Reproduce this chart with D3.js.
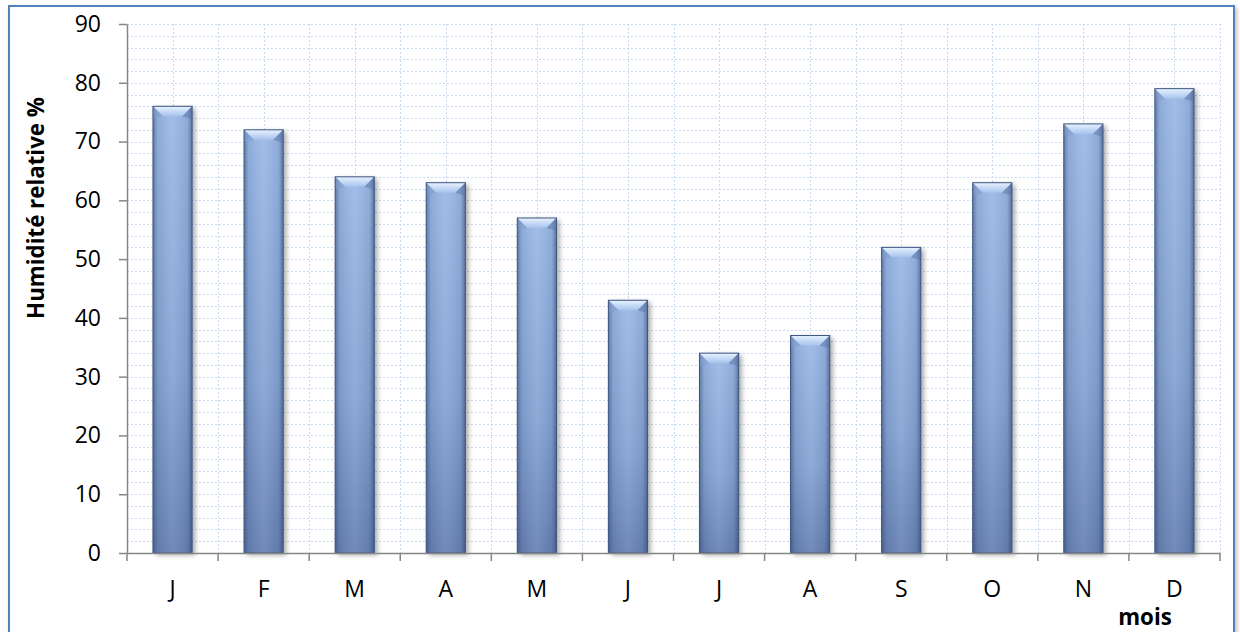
<!DOCTYPE html>
<html><head><meta charset="utf-8">
<script src="https://cdn.jsdelivr.net/npm/d3@7"></script>
<style>body{margin:0;background:#fff}svg{display:block}</style>
</head><body>
<script>
const months = ["J","F","M","A","M","J","J","A","S","O","N","D"];
const humidity = [76,72,64,63,57,43,34,37,52,63,73,79];
const yTicks = [0,10,20,30,40,50,60,70,80,90];
const yTitle = "Humidité relative %";
const xTitle = "mois";

const W=1240,H=632;
const svg=d3.select("body").append("svg").attr("width",W).attr("height",H);
const defs=svg.append("defs");
const m={l:127,r:1220,t:24,b:553};
const ids=months.map((d,i)=>i);
const x=d3.scaleBand().domain(ids).range([m.l,m.r]).paddingInner(0.57).paddingOuter(0.285);
const xb=d3.scaleBand().domain(ids).range([m.l,m.r]);
const y=d3.scaleLinear().domain([0,90]).range([m.b,m.t]);

// frame
const fs=defs.append("filter").attr("id","fsh").attr("x","-5%").attr("y","-5%").attr("width","110%").attr("height","110%");
fs.append("feDropShadow").attr("dx",2).attr("dy",2).attr("stdDeviation",2).attr("flood-color","#000").attr("flood-opacity",0.25);
svg.append("rect").attr("x",9).attr("y",6).attr("width",1225).attr("height",640).attr("fill","#fff").attr("stroke","#4f81bd").attr("stroke-width",2).attr("filter","url(#fsh)");

// gridlines
const grid=svg.append("g").attr("stroke","#c6d9f1").attr("stroke-width",1).attr("stroke-dasharray","2,2");
d3.range(2,91,2).forEach(v=>{
  grid.append("line").attr("x1",m.l).attr("x2",m.r).attr("y1",Math.round(y(v))+0.5).attr("y2",Math.round(y(v))+0.5);
});
ids.forEach(i=>{
  const xs=[xb(i)+xb.bandwidth()/2, xb(i)+xb.bandwidth()];
  xs.forEach(xx=>grid.append("line").attr("x1",Math.round(xx)+0.5).attr("x2",Math.round(xx)+0.5).attr("y1",m.t).attr("y2",m.b));
});

// gradients
const gv=defs.append("linearGradient").attr("id","gv").attr("x1",0).attr("y1",0).attr("x2",0).attr("y2",1);
gv.append("stop").attr("offset","0%").attr("stop-color","#9ab8e6");
gv.append("stop").attr("offset","60%").attr("stop-color","#84a2d2");
gv.append("stop").attr("offset","100%").attr("stop-color","#6580b2");
const gh=defs.append("linearGradient").attr("id","gh").attr("x1",0).attr("y1",0).attr("x2",1).attr("y2",0);
gh.append("stop").attr("offset","0%").attr("stop-color","#2c3f66").attr("stop-opacity",0.5);
gh.append("stop").attr("offset","12%").attr("stop-color","#2c3f66").attr("stop-opacity",0.1);
gh.append("stop").attr("offset","50%").attr("stop-color","#fff").attr("stop-opacity",0.08);
gh.append("stop").attr("offset","88%").attr("stop-color","#2c3f66").attr("stop-opacity",0.1);
gh.append("stop").attr("offset","100%").attr("stop-color","#2c3f66").attr("stop-opacity",0.55);
const gt=defs.append("linearGradient").attr("id","gt").attr("x1",0).attr("y1",0).attr("x2",0).attr("y2",1);
gt.append("stop").attr("offset","0%").attr("stop-color","#e8f3ff");
gt.append("stop").attr("offset","100%").attr("stop-color","#a6c2ec");
const bs=defs.append("filter").attr("id","bsh").attr("x","-30%").attr("y","-10%").attr("width","160%").attr("height","120%");
bs.append("feDropShadow").attr("dx",3).attr("dy",2).attr("stdDeviation",2.5).attr("flood-color","#000").attr("flood-opacity",0.35);

// bars
const bars=svg.append("g");
humidity.forEach((v,i)=>{
  const bx=x(i), bw=x.bandwidth(), by=y(v), bh=y(0)-y(v);
  const g=bars.append("g");
  g.append("rect").attr("x",bx).attr("y",by).attr("width",bw).attr("height",bh).attr("fill","url(#gv)").attr("filter","url(#bsh)");
  g.append("rect").attr("x",bx).attr("y",by).attr("width",bw).attr("height",bh).attr("fill","url(#gh)");
  const b=10;
  g.append("path").attr("d",`M${bx},${by}L${bx+bw},${by}L${bx+bw-b},${by+b}L${bx+b},${by+b}Z`).attr("fill","url(#gt)");
  g.append("path").attr("d",`M${bx},${by}L${bx+b},${by+b}L${bx},${by+b*1.3}Z`).attr("fill","#7f9bcb").attr("opacity",0.5);
  g.append("path").attr("d",`M${bx+bw},${by}L${bx+bw-b},${by+b}L${bx+bw},${by+b*1.3}Z`).attr("fill","#5a76a6").attr("opacity",0.5);
  g.append("rect").attr("x",bx).attr("y",by).attr("width",bw).attr("height",bh).attr("fill","none").attr("stroke","#3c5580").attr("stroke-width",1);
});

// axes
const ya=svg.append("g").attr("transform",`translate(${m.l},0)`)
  .call(d3.axisLeft(y).tickValues(yTicks).tickSize(8).tickPadding(18).tickSizeOuter(0));
const xa=svg.append("g").attr("transform",`translate(0,${m.b})`)
  .call(d3.axisBottom(xb).tickSize(0).tickPadding(28).tickFormat(i=>months[i]));
[ya,xa].forEach(a=>{
  a.select(".domain").attr("stroke","#868686").attr("stroke-width",1.5);
  a.selectAll(".tick line").attr("stroke","#868686").attr("stroke-width",1.5);
  a.selectAll("text").attr("font-family","'Open Sans',sans-serif").attr("font-size",23).attr("fill","#000");
});
// x boundary ticks
const bnd=ids.map(i=>xb(i)).concat([m.r]);
svg.append("g").selectAll("line").data(bnd).join("line")
  .attr("x1",d=>d).attr("x2",d=>d).attr("y1",m.b).attr("y2",m.b+8)
  .attr("stroke","#868686").attr("stroke-width",1.5);

// titles
svg.append("text").attr("transform","translate(44,208) rotate(-90)").attr("text-anchor","middle")
  .attr("font-family","'Open Sans',sans-serif").attr("font-weight","bold").attr("font-size",22.3).text(yTitle);
svg.append("text").attr("x",1145).attr("y",625).attr("text-anchor","middle")
  .attr("font-family","'Open Sans',sans-serif").attr("font-weight","bold").attr("font-size",22.3).text(xTitle);
</script>
</body></html>
